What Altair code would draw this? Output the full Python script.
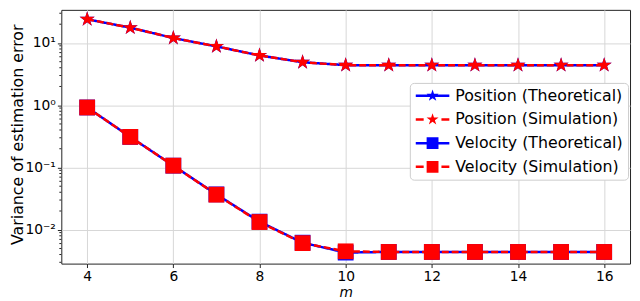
import altair as alt
import pandas as pd
import math

# ---------------- data ----------------
m_values = [4, 5, 6, 7, 8, 9, 10, 11, 12, 13, 14, 15, 16]
pos_theoretical = [24.0, 17.6, 12.0, 8.8, 6.3, 4.9, 4.4, 4.4, 4.4, 4.4, 4.4, 4.4, 4.4]
pos_simulation = [24.0, 17.6, 12.0, 8.8, 6.3, 4.9, 4.4, 4.4, 4.4, 4.4, 4.4, 4.4, 4.4]
vel_theoretical = [0.92, 0.31, 0.107, 0.037, 0.0135, 0.0062, 0.0043, 0.0044, 0.0044, 0.0044, 0.0044, 0.0044, 0.0044]
vel_simulation = [0.92, 0.31, 0.107, 0.0366, 0.0133, 0.0061, 0.0045, 0.0044, 0.0044, 0.0044, 0.0044, 0.0044, 0.0044]

series_names = [
    "Position (Theoretical)",
    "Position (Simulation)",
    "Velocity (Theoretical)",
    "Velocity (Simulation)",
]
series_colors = ["#0000ff", "#ff0000", "#0000ff", "#ff0000"]

x_tick_values = [4, 6, 8, 10, 12, 14, 16]
y_tick_values = [0.01, 0.1, 1, 10]
y_tick_labels = ["10⁻²", "10⁻¹", "10⁰", "10¹"]
y_domain = [0.00286, 34]
x_domain = [3.4, 16.6]

rows = []
for name, vals in zip(series_names, [pos_theoretical, pos_simulation, vel_theoretical, vel_simulation]):
    for m, v in zip(m_values, vals):
        rows.append({"m": m, "value": v, "series": name})
df = pd.DataFrame(rows)

minor_vals = [k * 10.0 ** e for e in range(-3, 2) for k in range(2, 10)]
minor_vals = [v for v in minor_vals if y_domain[0] <= v <= y_domain[1]]
minor_df = pd.DataFrame({"v": minor_vals})


# ---------------- marker shapes (unit paths) ----------------
def fmt(v):
    return f"{v:.3f}"


def star_path(cx, r, inner=0.381966):
    pts = []
    for i in range(10):
        ang = math.radians(i * 36)
        rr = r if i % 2 == 0 else r * inner
        pts.append((cx + rr * math.sin(ang), -rr * math.cos(ang)))
    s = "M" + fmt(pts[0][0]) + "," + fmt(pts[0][1])
    for x, y in pts[1:]:
        s += "L" + fmt(x) + "," + fmt(y)
    return s + "Z"


def rect_path(x0, x1, h=0.16):
    return f"M{fmt(x0)},{fmt(-h)}H{fmt(x1)}V{fmt(h)}H{fmt(x0)}Z"


def square_path(cx, h):
    return f"M{fmt(cx - h)},{fmt(-h)}H{fmt(cx + h)}V{fmt(h)}H{fmt(cx - h)}Z"


STAR = star_path(0, 1)
solid_line = rect_path(-0.875, 3.375)
dashed_line = rect_path(-0.875, 0.125) + rect_path(2.375, 3.375)
legend_paths = [
    solid_line + star_path(1.25, 0.8),
    dashed_line + star_path(1.25, 0.8),
    solid_line + square_path(1.25, 0.75),
    dashed_line + square_path(1.25, 0.75),
]

FONT = "DejaVu Sans"

x_enc = alt.X(
    "m:Q",
    scale=alt.Scale(domain=x_domain, nice=False, zero=False),
    axis=alt.Axis(
        values=x_tick_values,
        title="m",
        titleFontStyle="italic",
        titleFontWeight="normal",
        titleFontSize=14,
        titleFont=FONT,
        titleBaseline="alphabetic",
        titleY=33,
        labelFontSize=14,
        labelFont=FONT,
        labelPadding=2,
        tickSize=4,
        grid=True,
    ),
)

label_expr = ""
for v, lab in zip(y_tick_values, y_tick_labels):
    label_expr += f"abs(log(datum.value)/LN10 - ({math.log10(v)})) < 0.1 ? '{lab}' : "
label_expr += "''"

y_enc = alt.Y(
    "value:Q",
    scale=alt.Scale(type="log", domain=y_domain, nice=False),
    axis=alt.Axis(
        values=y_tick_values,
        labelExpr=label_expr,
        title="Variance of estimation error",
        titleFontWeight="normal",
        titleFontSize=16,
        titleFont=FONT,
        titleAngle=270,
        titleAlign="center",
        titleBaseline="alphabetic",
        titleX=-39,
        titleY=126,
        labelFontSize=14,
        labelFont=FONT,
        labelPadding=2,
        tickSize=4,
        grid=True,
    ),
)

base = alt.Chart(df)


def line_layer(name, color, dash):
    return base.transform_filter(alt.datum.series == name).mark_line(
        color=color, strokeWidth=2.5, strokeDash=dash
    ).encode(x=x_enc, y=y_enc)


def point_layer(name, color, shape):
    return base.transform_filter(alt.datum.series == name).mark_point(
        shape=shape, size=256, filled=True, fill=color, opacity=1, strokeWidth=0
    ).encode(x=x_enc, y=y_enc)


minor_ticks = alt.Chart(minor_df).mark_rule(color="#222", strokeWidth=1).encode(
    y=alt.Y("v:Q", scale=alt.Scale(type="log", domain=y_domain, nice=False)),
    x=alt.value(0),
    x2=alt.value(-2),
)

legend_layer = base.transform_filter("false").mark_point(
    filled=True, opacity=1, size=256
).encode(
    x=x_enc,
    y=y_enc,
    color=alt.Color(
        "series:N",
        scale=alt.Scale(domain=series_names, range=series_colors),
        legend=alt.Legend(title=None),
    ),
    shape=alt.Shape(
        "series:N",
        scale=alt.Scale(domain=series_names, range=legend_paths),
        legend=alt.Legend(title=None),
    ),
)

chart = alt.layer(
    line_layer(series_names[0], "#0000ff", [1, 0]),
    point_layer(series_names[0], "#0000ff", STAR),
    line_layer(series_names[1], "#ff0000", [7, 3]),
    point_layer(series_names[1], "#ff0000", STAR),
    line_layer(series_names[2], "#0000ff", [1, 0]),
    point_layer(series_names[2], "#0000ff", "square"),
    line_layer(series_names[3], "#ff0000", [7, 3]),
    point_layer(series_names[3], "#ff0000", "square"),
    minor_ticks,
    legend_layer,
).properties(
    width=576,
    height=257,
    autosize=alt.AutoSizeParams(type="none"),
    padding={"left": 54, "top": 0, "right": 2, "bottom": 36},
).configure_view(
    stroke="#222", strokeWidth=1
).configure_axis(
    domain=False,
    gridColor="#d6d6d6",
    gridWidth=1,
    tickColor="#222",
    labelColor="black",
    titleColor="black",
).configure_legend(
    orient="none",
    legendX=353,
    legendY=74,
    padding=5,
    fillColor="white",
    strokeColor="#cccccc",
    cornerRadius=4,
    labelFontSize=16,
    labelLimit=400,
    labelFont=FONT,
    labelColor="black",
    symbolSize=256,
    rowPadding=8,
    labelOffset=25,
    symbolStrokeWidth=0,
    symbolOpacity=1,
)

chart.save("out.html", embed_options={"renderer": "svg", "actions": False})
